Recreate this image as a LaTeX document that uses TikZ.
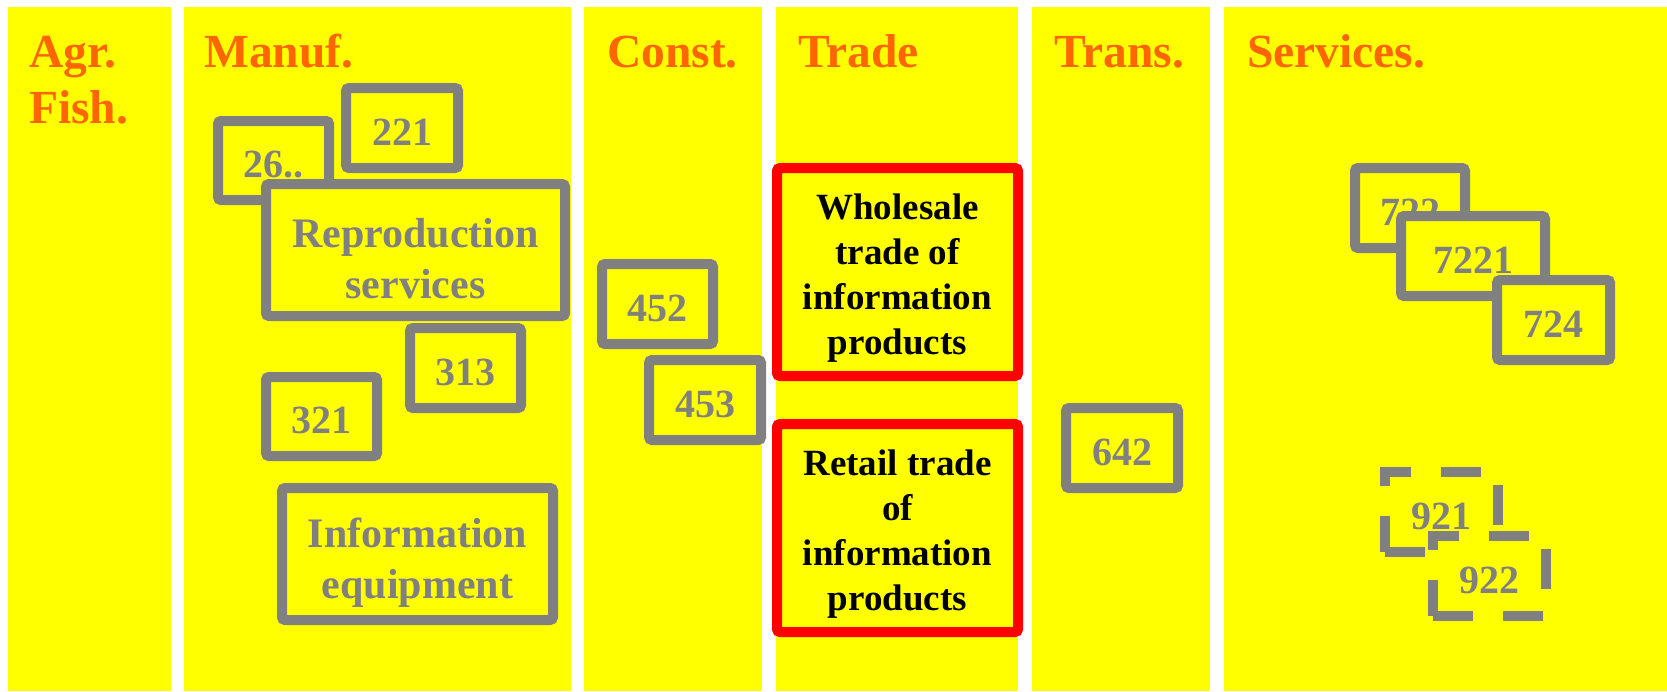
\documentclass[tikz,border=0pt]{standalone}
\usepackage{fontspec}
\setmainfont{Liberation Serif}
\definecolor{ylw}{RGB}{255,255,0}
\definecolor{org}{RGB}{255,102,0}
\definecolor{gry}{RGB}{128,128,128}
\begin{document}
\begin{tikzpicture}[x=1pt,y=-1pt,
  col/.style={fill=ylw},
  hdr/.style={anchor=base west, inner sep=0pt, text=org, font=\fontsize{47.5}{57}\selectfont\bfseries},
  gbox/.style={draw=gry, fill=ylw, line width=10pt, rounded corners=3pt, inner sep=0pt},
  gl/.style={text=gry, align=center, inner sep=0pt, yshift=-4pt, font=\fontsize{40}{50}\selectfont\bfseries},
  gt/.style={gl, yshift=-5pt, font=\fontsize{42}{51}\selectfont\bfseries},
  rbox/.style={draw=red, fill=ylw, line width=10pt, rounded corners=3pt, inner sep=0pt},
  rl/.style={text=black, align=center, inner sep=0pt, yshift=-6pt, font=\fontsize{37}{45}\selectfont\bfseries},
  dbox/.style={gbox, line width=9.5pt, dash pattern=on 40pt off 30pt, rounded corners=0pt},
]
\useasboundingbox (0,0) rectangle (1667,691);
\fill[white] (0,0) rectangle (1667,691);
% columns
\fill[col] (8,7) rectangle (171,691);
\fill[col] (184,7) rectangle (571,691);
\fill[col] (584,7) rectangle (762,691);
\fill[col] (776,7) rectangle (1018,691);
\fill[col] (1032,7) rectangle (1210,691);
\fill[col] (1224,7) rectangle (1667,691);
% headers
\node[hdr] (hagr) at (29,67) {Agr.};
\node[hdr] (hfish) at (29,123) {Fish.};
\node[hdr] (hman) at (204,67) {Manuf.};
\node[hdr] (hcon) at (607,67) {Const.};
\node[hdr] (htra) at (798,67) {Trade};
\node[hdr] (htrn) at (1054,67) {Trans.};
\node[hdr] (hser) at (1247,67) {Services.};
% manufacturing
\node[gbox, minimum width=111pt, minimum height=79pt, label={[gl]center:26..}] (b26) at (273.5,160.5) {};
\node[gbox, minimum width=112pt, minimum height=80pt, label={[gl]center:221}] (b221) at (402,128) {};
\node[gbox, minimum width=299pt, minimum height=132pt, label={[gt]center:{Reproduction\\services}}] (brep) at (415.5,250) {};
\node[gbox, minimum width=111pt, minimum height=80pt, label={[gl]center:313}] (b313) at (465.5,368) {};
\node[gbox, minimum width=111pt, minimum height=79pt, label={[gl]center:321}] (b321) at (321.5,416.5) {};
\node[gbox, minimum width=271pt, minimum height=132pt, label={[gt]center:{Information\\equipment}}] (binf) at (417.5,554) {};
% construction
\node[gbox, minimum width=111pt, minimum height=80pt, label={[gl]center:452}] (b452) at (657.5,304) {};
\node[gbox, minimum width=112pt, minimum height=80pt, label={[gl]center:453}] (b453) at (705,400) {};
% trade
\node[rbox, minimum width=241pt, minimum height=208pt, label={[rl]center:{Wholesale\\trade of\\information\\products}}] (bwho) at (897.5,272) {};
\node[rbox, minimum width=241pt, minimum height=208pt, label={[rl]center:{Retail trade\\of\\information\\products}}] (bret) at (897.5,528) {};
% transport
\node[gbox, minimum width=112pt, minimum height=80pt, label={[gl]center:642}] (b642) at (1122,448) {};
% services
\node[gbox, minimum width=110pt, minimum height=80pt, label={[gl]center:722}] (b722) at (1410,208) {};
\node[gbox, minimum width=144pt, minimum height=80pt, label={[gl]center:7221}] (b7221) at (1473,256) {};
\node[gbox, minimum width=113pt, minimum height=80pt, label={[gl]center:724}] (b724) at (1553.5,320) {};
\node[dbox, minimum width=113pt, minimum height=80pt, label={[gl]center:921}] (b921) at (1441.5,512) {};
\node[dbox, minimum width=113pt, minimum height=80pt, label={[gl]center:922}] (b922) at (1489.5,576) {};
\end{tikzpicture}
\end{document}
